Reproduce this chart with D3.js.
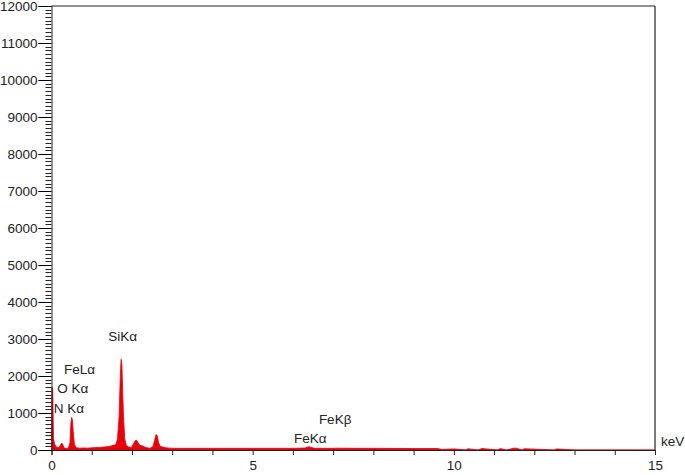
<!DOCTYPE html>
<html>
<head>
<meta charset="utf-8">
<script src="https://cdnjs.cloudflare.com/ajax/libs/d3/7.8.5/d3.min.js"></script>
<style>
body { margin: 0; background: #fff; }
svg text { font-family: "Liberation Sans", Arial, sans-serif; font-size: 13.5px; fill: #222; }
</style>
</head>
<body>
<svg width="685" height="475"></svg>
<script>
// spectrum, energy in keV and counts
var energy = [0.00, 0.01, 0.03, 0.05, 0.08, 0.12, 0.18, 0.22, 0.25, 0.28, 0.31, 0.36, 0.42, 0.46, 0.48, 0.50, 0.52, 0.54, 0.57, 0.62,
    0.70, 0.80, 0.90, 1.00, 1.10, 1.20, 1.30, 1.40, 1.48, 1.55, 1.60, 1.64, 1.68, 1.71, 1.73, 1.75, 1.77, 1.79, 1.82, 1.86,
    1.92, 1.98, 2.03, 2.08, 2.11, 2.15, 2.20, 2.26, 2.30, 2.36, 2.45, 2.52, 2.56, 2.60, 2.63, 2.66, 2.70, 2.76, 2.84, 2.95,
    3.10, 3.30, 3.60, 4.00, 4.50, 5.00, 5.50, 6.00, 6.30, 6.40, 6.45, 6.55, 7.00, 7.06, 7.50, 8.00, 9.00, 9.60, 9.70, 10.00,
    10.30, 10.35, 10.60, 10.70, 11.10, 11.15, 11.30, 11.50, 11.55, 11.70, 11.75, 12.50, 12.55, 13.00, 15.00];
var counts = [0, 1700, 1650, 300, 150, 80, 60, 120, 190, 150, 60, 40, 50, 200, 700, 880, 820, 500, 150, 60,
    50, 55, 50, 60, 65, 70, 80, 90, 110, 130, 150, 300, 900, 2000, 2450, 2300, 1550, 900, 300, 120,
    80, 60, 150, 250, 270, 200, 120, 110, 90, 60, 50, 90, 250, 420, 380, 200, 100, 80, 60, 50,
    45, 45, 45, 45, 45, 45, 45, 45, 55, 90, 70, 45, 45, 50, 45, 45, 40, 40, 15, 30,
    0, 35, 0, 40, 0, 40, 0, 50, 50, 0, 35, 0, 30, 0, 0];

var xTicks = [0, 5, 10, 15];
var peakLabels = [
    {text: "SiK\u03b1", e: 1.77, c: 2950},
    {text: "FeL\u03b1", e: 0.70, c: 2060},
    {text: "O K\u03b1", e: 0.53, c: 1530},
    {text: "N K\u03b1", e: 0.43, c: 990},
    {text: "FeK\u03b2", e: 7.05, c: 700},
    {text: "FeK\u03b1", e: 6.43, c: 200}
];

var svg = d3.select("svg");

var x = d3.scaleLinear().domain([0, 15]).range([51.5, 655]);
var y = d3.scaleLinear().domain([0, 12000]).range([450, 6]);

var spectrum = energy.map(function(e, i) { return {e: e, c: counts[i]}; });

var area = d3.area()
    .x(function(d) { return x(d.e); })
    .y0(y(0))
    .y1(function(d) { return y(d.c); });

svg.append("path")
    .datum(spectrum)
    .attr("fill", "#e8000b")
    .attr("stroke", "#e8000b")
    .attr("stroke-width", 0.8)
    .attr("d", area);

// frame top and right
svg.append("line")
    .attr("x1", x(0)).attr("x2", x(15))
    .attr("y1", y(12000)).attr("y2", y(12000))
    .attr("stroke", "#222");
svg.append("line")
    .attr("x1", x(15)).attr("x2", x(15))
    .attr("y1", y(12000)).attr("y2", y(0))
    .attr("stroke", "#333").attr("stroke-width", 1.3);

// y axis, minor ticks every 100
var yMinor = svg.append("g").attr("transform", "translate(" + x(0) + ",0)");
yMinor.selectAll("line")
    .data(d3.range(0, 12001, 100))
    .enter().append("line")
    .attr("x1", function(d) { return d % 1000 == 0 ? -13 : -6; })
    .attr("x2", 0)
    .attr("y1", function(d) { return Math.round(y(d)) + 0.5; })
    .attr("y2", function(d) { return Math.round(y(d)) + 0.5; })
    .attr("stroke", "#222");

var yAxis = d3.axisLeft(y).tickValues(d3.range(0, 12001, 1000)).tickSize(13).tickPadding(1).tickFormat(d3.format("d"));
var gy = svg.append("g").attr("transform", "translate(" + x(0) + ",0)").call(yAxis);
gy.select(".domain").attr("stroke", "#222");
gy.selectAll("text").style("font-size", "13.5px").attr("fill", "#222");

// x axis, ticks every 1 keV
var xAxis = d3.axisBottom(x).tickValues(d3.range(0, 16, 1)).tickSize(5).tickPadding(5)
    .tickFormat(function(d) { return xTicks.indexOf(d) >= 0 ? d : ""; });
var gx = svg.append("g").attr("transform", "translate(0," + y(0) + ")").call(xAxis);
gx.select(".domain").attr("stroke", "#222");
gx.selectAll(".tick line").attr("stroke", "#222");
gx.selectAll("text").style("font-size", "13.5px").attr("fill", "#222");

svg.append("text")
    .attr("x", 661).attr("y", 446)
    .text("keV");

svg.selectAll(".peak")
    .data(peakLabels)
    .enter().append("text")
    .attr("class", "peak")
    .attr("x", function(d) { return x(d.e); })
    .attr("y", function(d) { return y(d.c); })
    .attr("text-anchor", "middle")
    .text(function(d) { return d.text; });
</script>
</body>
</html>
